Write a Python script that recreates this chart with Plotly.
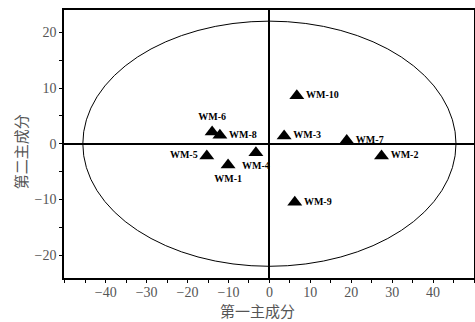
import plotly.graph_objects as go

# Data
names = ["WM-1", "WM-2", "WM-3", "WM-4", "WM-5", "WM-6", "WM-7", "WM-8", "WM-9", "WM-10"]
pc1 = [-10.1, 27.4, 3.6, -3.3, -15.3, -14.0, 18.9, -12.1, 6.2, 6.7]
pc2 = [-3.8, -2.2, 1.4, -1.6, -2.2, 2.1, 0.6, 1.5, -10.5, 8.6]
label_pos = ["bottom center", "middle right", "middle right", "bottom center", "middle left",
             "top center", "middle right", "middle right", "middle right", "middle right"]

x_ticks = [-40, -30, -20, -10, 0, 10, 20, 30, 40]
y_ticks = [-20, -10, 0, 10, 20]
ellipse_rx = 45.6
ellipse_ry = 22.0
x_title = "第一主成分"
y_title = "第二主成分"

fig = go.Figure()
fig.add_trace(go.Scatter(
    x=pc1, y=pc2, mode="markers+text", text=names, textposition=label_pos,
    marker=dict(symbol="triangle-up", size=13, color="black"),
    textfont=dict(family="Liberation Serif", size=10, color="black", weight="bold"),
    showlegend=False, cliponaxis=False, hoverinfo="skip",
))

fig.add_shape(type="circle", xref="x", yref="y",
              x0=-ellipse_rx, x1=ellipse_rx, y0=-ellipse_ry, y1=ellipse_ry,
              line=dict(color="black", width=1), layer="below")

axis_common = dict(
    showgrid=False, zeroline=True, zerolinecolor="black", zerolinewidth=1.5,
    showline=True, linecolor="black", linewidth=1.5, mirror=True,
    ticks="outside", ticklen=3, tickwidth=1, tickcolor="black", automargin=False,
    tickfont=dict(family="Liberation Serif", size=14, color="#555555"),
    minor=dict(dtick=5, tick0=0, ticks="outside", ticklen=3, tickcolor="black"),
)

title_font = dict(family="Noto Sans CJK SC", size=15, color="#555555")

fig.update_layout(
    width=475, height=322,
    margin=dict(l=64, r=1, t=10, b=44),
    plot_bgcolor="white", paper_bgcolor="white",
    xaxis=dict(range=[-50.2, 50], tickvals=x_ticks, ticklabelstandoff=-3, **axis_common),
    yaxis=dict(range=[-24.1, 24], tickvals=y_ticks, **axis_common),
    annotations=[
        dict(text=x_title, xref="paper", yref="paper", x=0.473, y=-0.123, yanchor="middle",
             xanchor="center", showarrow=False, font=title_font),
        dict(text=y_title, xref="paper", yref="paper", x=-0.107, y=0.47, xanchor="center",
             yanchor="middle", textangle=-90, showarrow=False, font=title_font),
    ],
)

fig.write_html("out.html", config={"displayModeBar": False},
               post_script="document.body.style.margin='0';document.body.style.overflow='hidden';")
